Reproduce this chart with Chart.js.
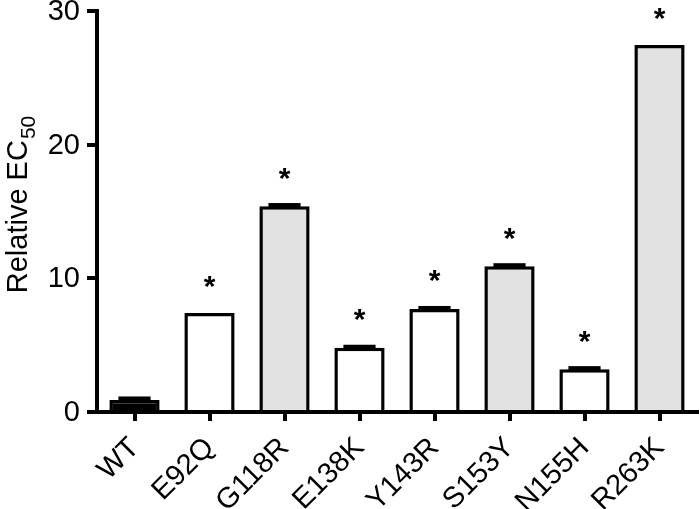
<!DOCTYPE html>
<html>
<head>
<meta charset="utf-8">
<script src="https://cdn.jsdelivr.net/npm/chart.js"></script>
<style>
html,body{margin:0;padding:0;background:#fff;}
#wrap{width:700px;height:509px;}
</style>
</head>
<body>
<div id="wrap"><canvas id="c" width="700" height="509"></canvas></div>
<script>
/* ---------- DATA ---------- */
const mutants = ["WT","E92Q","G118R","E138K","Y143R","S153Y","N155H","R263K"];
const relEC50 = [0.9,7.4,15.4,4.8,7.7,10.9,3.2,27.45];
const sem = [0.15,0,0.12,0.12,0.12,0.12,0.12,0];
const significant = [false,true,true,true,true,true,true,true];
const fills = ["#000000","#ffffff","#e2e2e2","#ffffff","#ffffff","#e2e2e2","#ffffff","#e2e2e2"];
const yTicks = [0,10,20,30];

const FONT = "'Liberation Sans', Arial, sans-serif";

/* ---------- PLUGINS ---------- */
const errorStars = {
  id: "errorStars",
  afterDatasetsDraw(chart){
    const ctx = chart.ctx, y = chart.scales.y;
    const meta = chart.getDatasetMeta(0);
    ctx.save();
    ctx.fillStyle = "#000";
    meta.data.forEach((bar,i)=>{
      const w = bar.width;
      const top = y.getPixelForValue(relEC50[i]+sem[i]);
      if (sem[i] > 0) {
        const cw = w*0.64, h = Math.max(4, bar.y - top + 2);
        ctx.fillRect(bar.x-cw/2, top-1.5, cw, h);
      }
      if (significant[i]) {
        ctx.font = "bold 30px " + FONT;
        ctx.textAlign = "center";
        ctx.textBaseline = "alphabetic";
        ctx.fillText("*", bar.x, top - 17);
      }
    });
    ctx.restore();
  },
  afterDraw(chart){
    const ctx = chart.ctx, x = chart.scales.x, y = chart.scales.y;
    ctx.save();
    ctx.fillStyle = "#000";
    // y tick labels
    ctx.font = "29px " + FONT;
    ctx.textAlign = "right";
    ctx.textBaseline = "middle";
    yTicks.forEach(v=>ctx.fillText(String(v), 80, y.getPixelForValue(v)+1));
    // x category labels, rotated 45
    ctx.font = "29px " + FONT;
    mutants.forEach((m,i)=>{
      const px = x.getPixelForValue(i);
      ctx.save();
      ctx.translate(px - 10, y.bottom + 21);
      ctx.rotate(-Math.PI/4);
      ctx.textAlign = "right";
      ctx.textBaseline = "top";
      ctx.fillText(m, 0, 0);
      ctx.restore();
    });
    // y axis title with subscript
    ctx.translate(27, 205);
    ctx.rotate(-Math.PI/2);
    ctx.textBaseline = "alphabetic";
    ctx.font = "29px " + FONT;
    const main = "Relative EC";
    const wMain = ctx.measureText(main).width;
    ctx.font = "21px " + FONT;
    const wSub = ctx.measureText("50").width;
    const x0 = -(wMain + wSub)/2;
    ctx.font = "29px " + FONT;
    ctx.textAlign = "left";
    ctx.fillText(main, x0, 0);
    ctx.font = "21px " + FONT;
    ctx.fillText("50", x0 + wMain + 1, 8);
    ctx.restore();
  }
};

/* ---------- CHART ---------- */
new Chart(document.getElementById("c"), {
  type: "bar",
  data: {
    labels: mutants,
    datasets: [{
      data: relEC50,
      backgroundColor: fills,
      borderColor: "#000",
      borderWidth: 3.5,
      borderSkipped: "bottom",
      barPercentage: 0.67,
      categoryPercentage: 1
    }]
  },
  options: {
    responsive: false,
    devicePixelRatio: 1,
    animation: false,
    layout: { padding: { top: 11, right: 3, left: 0, bottom: 0 } },
    plugins: { legend: { display: false }, tooltip: { enabled: false } },
    scales: {
      x: {
        afterFit(s){ s.height = 97; },
        border: { color: "#000", width: 4 },
        grid: { display: true, drawOnChartArea: false, color: "#000", lineWidth: 4, tickLength: 9, offset: false },
        ticks: { display: false }
      },
      y: {
        min: 0, max: 30,
        afterFit(s){ s.width = 97; },
        afterBuildTicks(s){ s.ticks = yTicks.map(v=>({value:v})); },
        border: { color: "#000", width: 4 },
        grid: { display: true, drawOnChartArea: false, color: "#000", lineWidth: 4, tickLength: 10 },
        ticks: { display: false }
      }
    }
  },
  plugins: [errorStars]
});
</script>
</body>
</html>
